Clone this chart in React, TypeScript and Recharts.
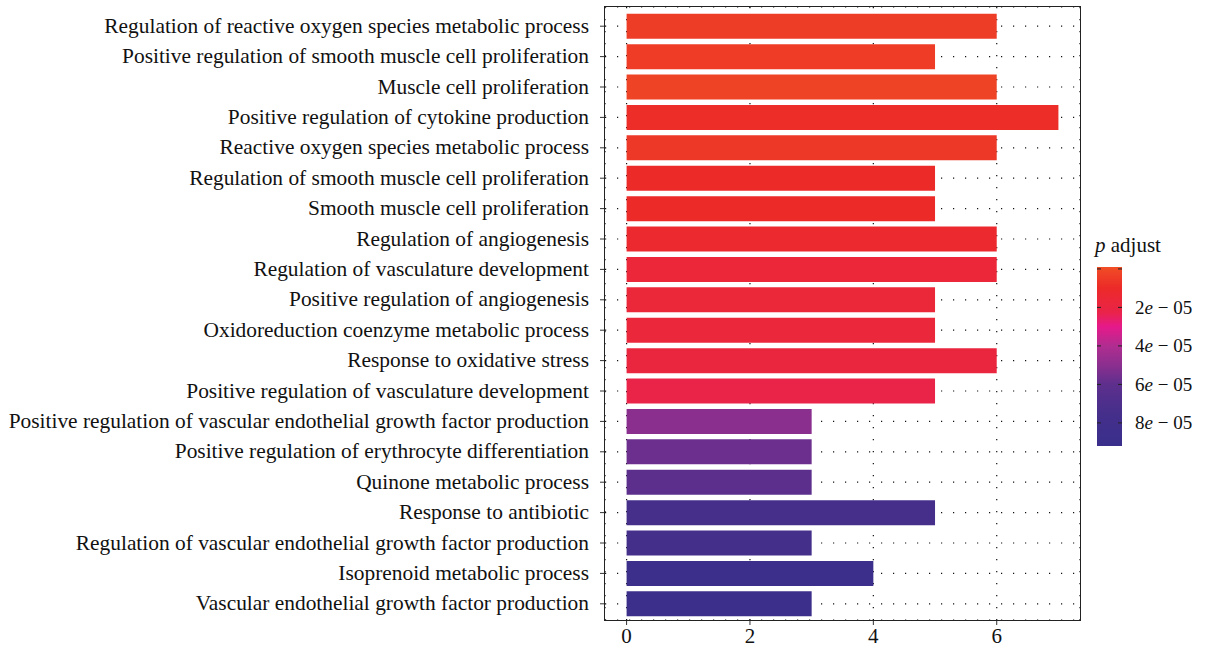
import React from "react";
import { BarChart, Bar, XAxis, YAxis, CartesianGrid, Cell } from "recharts";

const SERIF = '"Liberation Serif", "DejaVu Serif", serif';

// GO terms, top to bottom
const terms = [
  "Regulation of reactive oxygen species metabolic process",
  "Positive regulation of smooth muscle cell proliferation",
  "Muscle cell proliferation",
  "Positive regulation of cytokine production",
  "Reactive oxygen species metabolic process",
  "Regulation of smooth muscle cell proliferation",
  "Smooth muscle cell proliferation",
  "Regulation of angiogenesis",
  "Regulation of vasculature development",
  "Positive regulation of angiogenesis",
  "Oxidoreduction coenzyme metabolic process",
  "Response to oxidative stress",
  "Positive regulation of vasculature development",
  "Positive regulation of vascular endothelial growth factor production",
  "Positive regulation of erythrocyte differentiation",
  "Quinone metabolic process",
  "Response to antibiotic",
  "Regulation of vascular endothelial growth factor production",
  "Isoprenoid metabolic process",
  "Vascular endothelial growth factor production",
];

// gene counts
const counts = [6, 5, 6, 7, 6, 5, 5, 6, 6, 5, 5, 6, 5, 3, 3, 3, 5, 3, 4, 3];

// p adjust (estimated from the fill colour)
const pAdjust = [
  0.4e-5, 0.45e-5, 0.2e-5, 0.9e-5, 0.55e-5, 1.0e-5, 1.0e-5, 1.2e-5, 1.6e-5, 1.65e-5,
  1.7e-5, 1.9e-5, 2.2e-5, 5.0e-5, 5.7e-5, 6.1e-5, 7.5e-5, 7.6e-5, 8.8e-5, 8.9e-5,
];

const xTicks = [0, 2, 4, 6];
const legendTicks = [0, 2e-5, 4e-5, 6e-5, 8e-5];
const legendLabels = ["", "2", "4", "6", "8"];

// colour scale used by the fill legend
const palette: [number, string][] = [
  [-0.1e-5, "#F14F25"],
  [0.2e-5, "#EF4326"],
  [0.5e-5, "#EE3A27"],
  [1.0e-5, "#EC2A28"],
  [1.6e-5, "#EB2739"],
  [2.0e-5, "#EA2541"],
  [2.3e-5, "#E9234C"],
  [3.0e-5, "#E6198A"],
  [4.0e-5, "#B02D90"],
  [5.0e-5, "#8B2F8F"],
  [6.0e-5, "#5E2F8D"],
  [7.5e-5, "#452F8B"],
  [8.8e-5, "#3C2F8C"],
  [9.2e-5, "#3B2F8C"],
];

const hex = (c: string) => [1, 3, 5].map((i) => parseInt(c.slice(i, i + 2), 16));

const colorFor = (v: number) => {
  for (let i = 0; i < palette.length - 1; i++) {
    const [v0, c0] = palette[i];
    const [v1, c1] = palette[i + 1];
    if (v <= v1 || i === palette.length - 2) {
      const t = Math.max(0, Math.min(1, (v - v0) / (v1 - v0)));
      const a = hex(c0);
      const b = hex(c1);
      const m = a.map((x, k) => Math.round(x + (b[k] - x) * t));
      return `rgb(${m[0]},${m[1]},${m[2]})`;
    }
  }
  return palette[0][1];
};

const data = terms.map((term, i) => ({ term, count: counts[i], p: pAdjust[i] }));

// colour bar geometry
const barX = 1097;
const barW = 25;
const barTop = 267;
const barBottom = 446;
const vMin = palette[0][0];
const vMax = palette[palette.length - 1][0];
const yFor = (v: number) => barTop + ((v - vMin) / (vMax - vMin)) * (barBottom - barTop);

const Legend = () => (
  <svg width={1205} height={656} style={{ position: "absolute", left: 0, top: 0, pointerEvents: "none" }}>
    <defs>
      <linearGradient id="padj" x1="0" y1="0" x2="0" y2="1">
        {palette.map(([v, c]) => (
          <stop key={v} offset={(v - vMin) / (vMax - vMin)} stopColor={c} />
        ))}
      </linearGradient>
    </defs>
    <text x={1095} y={252} fontFamily={SERIF} fontSize={21} fill="#111">
      <tspan fontStyle="italic">p</tspan> adjust
    </text>
    <rect x={barX} y={barTop} width={barW} height={barBottom - barTop} fill="url(#padj)" />
    {legendTicks.map((v, i) => {
      const y = yFor(v);
      return (
        <g key={v}>
          <line x1={barX} x2={barX + 4} y1={y} y2={y} stroke="#222" strokeWidth={1} />
          <line x1={barX + barW - 4} x2={barX + barW} y1={y} y2={y} stroke="#222" strokeWidth={1} />
          {legendLabels[i] && (
            <text x={1135} y={y + 6.5} fontFamily={SERIF} fontSize={19} fill="#111">
              {legendLabels[i]}
              <tspan fontStyle="italic">e</tspan> − 05
            </text>
          )}
        </g>
      );
    })}
  </svg>
);

export default function App() {
  return (
    <div style={{ position: "absolute", left: 0, top: 0, width: 1205, height: 656, background: "#fff" }}>
      <BarChart
        layout="vertical"
        width={1205}
        height={656}
        data={data}
        margin={{ top: 7, right: 125, bottom: 0, left: 0 }}
        barCategoryGap="9%"
      >
        <CartesianGrid stroke="#111" strokeWidth={1.2} strokeDasharray="1.2 10.8" />
        <XAxis
          type="number"
          dataKey="count"
          domain={[-0.35, 7.35]}
          ticks={xTicks}
          allowDataOverflow
          height={36}
          axisLine={false}
          tickSize={5}
          tickLine={{ stroke: "#333" }}
          tickMargin={3}
          tick={{ fill: "#111", fontSize: 21, fontFamily: SERIF }}
        />
        <YAxis
          type="category"
          dataKey="term"
          width={605}
          axisLine={false}
          interval={0}
          tickSize={5}
          tickLine={{ stroke: "#333" }}
          tickMargin={11}
          padding={{ top: 4, bottom: 1 }}
          tick={{ fill: "#111", fontSize: 21.4, fontFamily: SERIF, dy: -1 }}
        />
        <Bar dataKey="count" isAnimationActive={false}>
          {data.map((d) => (
            <Cell key={d.term} fill={colorFor(d.p)} />
          ))}
        </Bar>
      </BarChart>
      <div
        style={{
          position: "absolute",
          left: 604,
          top: 6,
          width: 477,
          height: 615,
          border: "1.5px solid #222",
          boxSizing: "border-box",
          pointerEvents: "none",
        }}
      />
      <Legend />
    </div>
  );
}
